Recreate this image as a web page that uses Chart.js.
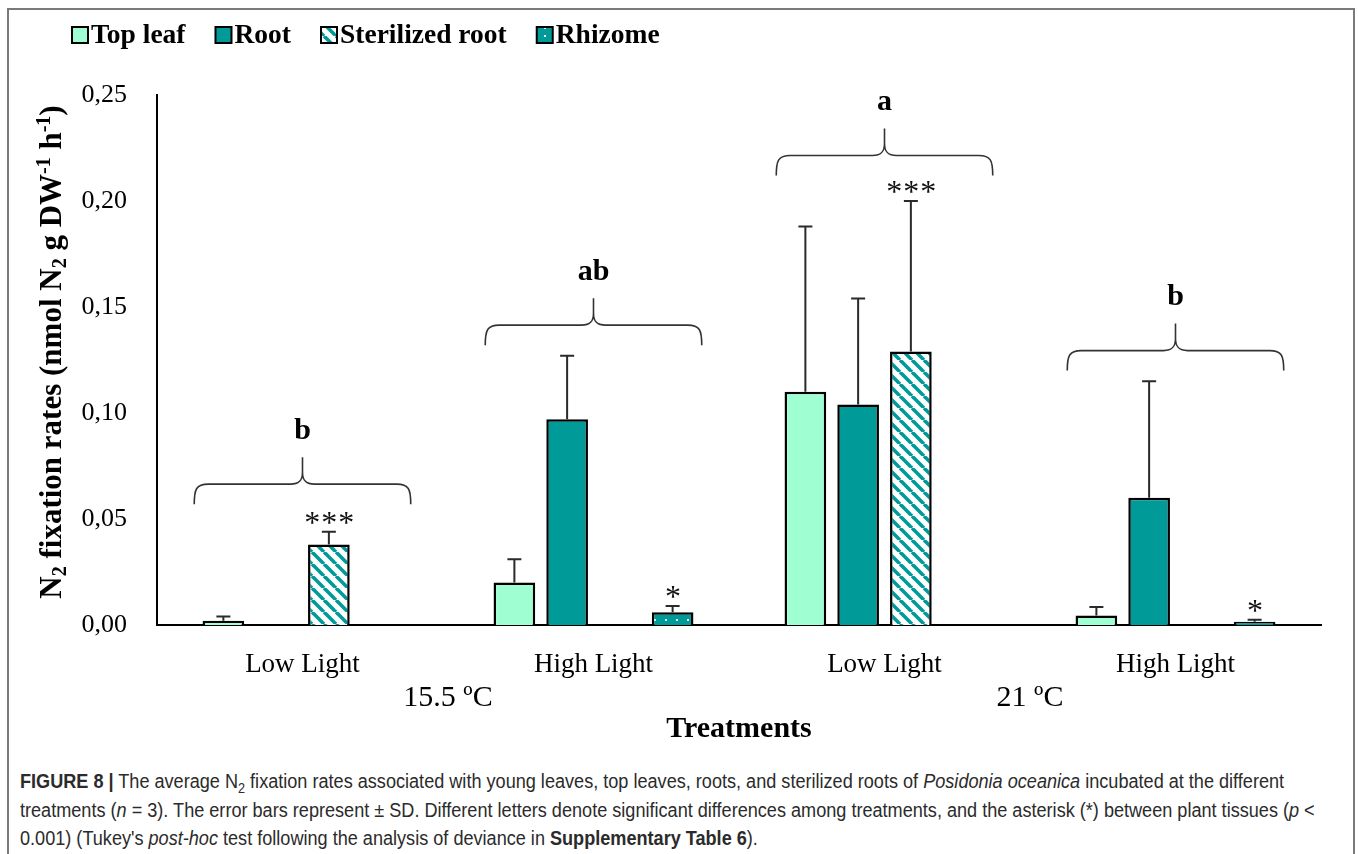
<!DOCTYPE html>
<html>
<head>
<meta charset="utf-8">
<script src="https://cdn.jsdelivr.net/npm/chart.js@4.4.1/dist/chart.umd.min.js"></script>
<style>
  html, body { margin: 0; padding: 0; background: #fff; }
  body { width: 1358px; height: 854px; position: relative; overflow: hidden; }
  #frame { position: absolute; left: 7px; top: 8px; width: 1348px; height: 900px; border: 2px solid #7a7a7a; box-sizing: border-box; }
  #chartBox { position: absolute; left: 0; top: 0; width: 1358px; height: 760px; }
  .cap { position: absolute; left: 20px; font-family: "Liberation Sans", Arial, sans-serif; font-size: 20px; line-height: 24px; color: #2b2b2b; white-space: nowrap; transform: scaleX(0.905); transform-origin: 0 50%; }
  .cap b { font-weight: bold; }
</style>
</head>
<body>
<div id="frame"></div>
<div id="chartBox"><canvas id="n2Chart" width="1358" height="760"></canvas></div>
<div class="cap" style="top:769px"><b>FIGURE 8 |</b> The average N<sub style="font-size:14px">2</sub> fixation rates associated with young leaves, top leaves, roots, and sterilized roots of <i>Posidonia oceanica</i> incubated at the different</div>
<div class="cap" style="top:798px">treatments (<i>n</i> = 3). The error bars represent ± SD. Different letters denote significant differences among treatments, and the asterisk (*) between plant tissues (<i>p</i> &lt;</div>
<div class="cap" style="top:826px">0.001) (Tukey's <i>post-hoc</i> test following the analysis of deviance in <b>Supplementary Table 6</b>).</div>

<script>
// categories and tick labels
const categories = ["Low Light", "High Light", "Low Light", "High Light"];
const temperatures = ["15.5 ºC", "21 ºC"];
const yTicks = [0, 0.05, 0.1, 0.15, 0.2, 0.25];

// means and SD per tissue
const topLeaf = [0.002, 0.020, 0.110, 0.0045];
const topLeafSD = [0.002, 0.011, 0.078, 0.004];
const root = [null, 0.097, 0.104, 0.060];
const rootSD = [null, 0.030, 0.050, 0.055];
const sterilizedRoot = [0.038, null, 0.129, null];
const sterilizedRootSD = [0.006, null, 0.071, null];
const rhizome = [null, 0.006, null, 0.0015];
const rhizomeSD = [null, 0.003, null, 0.001];

// significance marks
const groupLetters = ["b", "ab", "a", "b"];
const braceLevel = [0.057, 0.132, 0.212, 0.120];
const sterilizedStars = ["***", "", "***", ""];
const rhizomeStars = ["", "*", "", "*"];

const TEAL = "#009a98";
const MINT = "#a0ffd2";
const SERIF = '"Liberation Serif", "Times New Roman", serif';

// ! Fill patterns
const stripePattern = (() => {
  const c = document.createElement("canvas");
  c.width = 12; c.height = 12;
  const g = c.getContext("2d");
  g.fillStyle = "#fff";
  g.fillRect(0, 0, 12, 12);
  g.strokeStyle = TEAL;
  g.lineWidth = 3.6;
  for (let k = -1; k <= 1; k++) {
    g.beginPath();
    g.moveTo(k * 12, 0);
    g.lineTo(k * 12 + 12, 12);
    g.stroke();
  }
  return g.createPattern(c, "repeat");
})();

const dotPattern = (() => {
  const c = document.createElement("canvas");
  c.width = 11; c.height = 8;
  const g = c.getContext("2d");
  g.fillStyle = TEAL;
  g.fillRect(0, 0, 11, 8);
  g.fillStyle = "#fff";
  g.fillRect(5, 3, 2, 2);
  return g.createPattern(c, "repeat");
})();

function drawBrace(ctx, x1, x2, yb) {
  const cx = (x1 + x2) / 2, yt = yb - 20, tip = yt - 27;
  ctx.beginPath();
  ctx.moveTo(x1, yb);
  ctx.bezierCurveTo(x1, yt + 5, x1 + 2, yt, x1 + 14, yt);
  ctx.lineTo(cx - 12, yt);
  ctx.bezierCurveTo(cx - 3, yt, cx, yt - 4, cx, yt - 12);
  ctx.lineTo(cx, tip);
  ctx.moveTo(x2, yb);
  ctx.bezierCurveTo(x2, yt + 5, x2 - 2, yt, x2 - 14, yt);
  ctx.lineTo(cx + 12, yt);
  ctx.bezierCurveTo(cx + 3, yt, cx, yt - 4, cx, yt - 12);
  ctx.stroke();
  return tip;
}

const figureDecor = {
  id: "figureDecor",
  afterDatasetsDraw(chart) {
    const ctx = chart.ctx;
    const y = chart.scales.y;
    ctx.save();
    // error bars (upper only)
    chart.data.datasets.forEach((ds, i) => {
      const meta = chart.getDatasetMeta(i);
      meta.data.forEach((bar, j) => {
        const v = ds.data[j];
        if (v == null) return;
        const top = y.getPixelForValue(v + ds.sd[j]);
        ctx.strokeStyle = "#2a2a2a";
        ctx.lineWidth = 2;
        ctx.beginPath();
        ctx.moveTo(bar.x, bar.y);
        ctx.lineTo(bar.x, top);
        ctx.moveTo(bar.x - 7, top);
        ctx.lineTo(bar.x + 7, top);
        ctx.stroke();
        if (ds.stars && ds.stars[j]) {
          ctx.fillStyle = "#111";
          ctx.font = "32px " + SERIF;
          ctx.textAlign = "center";
          ctx.textBaseline = "alphabetic";
          ctx.letterSpacing = "1px";
          ctx.fillText(ds.stars[j], bar.x + 1, top + 1);
          ctx.letterSpacing = "0px";
        }
      });
    });
    ctx.restore();
  },
  afterDraw(chart) {
    const ctx = chart.ctx;
    const xs = chart.scales.x, ys = chart.scales.y;
    const catW = (xs.right - xs.left) / categories.length;
    ctx.save();

    // braces and group letters
    ctx.strokeStyle = "#333";
    ctx.lineWidth = 1.6;
    groupLetters.forEach((letter, j) => {
      const cx = xs.getPixelForValue(j);
      const tip = drawBrace(ctx, cx - catW * 0.372, cx + catW * 0.372, ys.getPixelForValue(braceLevel[j]));
      ctx.fillStyle = "#000";
      ctx.font = "bold 30px " + SERIF;
      ctx.textAlign = "center";
      ctx.textBaseline = "middle";
      ctx.fillText(letter, cx, tip - 26);
    });

    // temperature row
    ctx.font = "30px " + SERIF;
    ctx.fillStyle = "#000";
    temperatures.forEach((t, k) => {
      const cx = (xs.getPixelForValue(2 * k) + xs.getPixelForValue(2 * k + 1)) / 2;
      ctx.fillText(t, cx, 698);
    });

    // legend
    ctx.font = "bold 27.5px " + SERIF;
    ctx.textAlign = "left";
    let lx = 72;
    chart.data.datasets.forEach((ds) => {
      ctx.fillStyle = ds.backgroundColor;
      ctx.fillRect(lx, 27, 16, 16);
      ctx.strokeStyle = "#000";
      ctx.lineWidth = 2;
      ctx.strokeRect(lx, 27, 16, 16);
      ctx.fillStyle = "#000";
      ctx.fillText(ds.label, lx + 19, 36);
      lx += 19 + ctx.measureText(ds.label).width + 30;
    });

    // y axis title with sub/superscripts
    const parts = [
      ["N", 0], ["2", 1], [" fixation rates (nmol N", 0], ["2", 1], [" g DW", 0],
      ["-1", -1], [" h", 0], ["-1", -1], [")", 0],
    ];
    const big = "bold 31px " + SERIF, small = "bold 20px " + SERIF;
    let total = 0;
    parts.forEach(([s, k]) => { ctx.font = k ? small : big; total += ctx.measureText(s).width; });
    ctx.translate(53, (ys.top + ys.bottom) / 2 - 8);
    ctx.rotate(-Math.PI / 2);
    ctx.textBaseline = "middle";
    let px = -total / 2;
    parts.forEach(([s, k]) => {
      ctx.font = k ? small : big;
      ctx.fillText(s, px, k * 8);
      px += ctx.measureText(s).width;
    });
    ctx.restore();
  },
};

const n2Chart = new Chart(document.getElementById("n2Chart"), {
  type: "bar",
  data: {
    labels: categories,
    datasets: [
      { label: "Top leaf", data: topLeaf, sd: topLeafSD, backgroundColor: MINT },
      { label: "Root", data: root, sd: rootSD, backgroundColor: TEAL },
      { label: "Sterilized root", data: sterilizedRoot, sd: sterilizedRootSD, stars: sterilizedStars, backgroundColor: stripePattern },
      { label: "Rhizome", data: rhizome, sd: rhizomeSD, stars: rhizomeStars, backgroundColor: dotPattern },
    ].map((ds) => ({ ...ds, borderColor: "#000", borderWidth: 2.5, categoryPercentage: 0.725, barPercentage: 0.79 })),
  },
  options: {
    responsive: false,
    animation: false,
    devicePixelRatio: 1,
    layout: { padding: { top: 95, right: 37, left: 0, bottom: 0 } },
    plugins: { legend: { display: false }, tooltip: { enabled: false } },
    scales: {
      x: {
        grid: { display: false },
        border: { display: true, color: "#000", width: 2 },
        ticks: { color: "#000", font: { family: SERIF, size: 27 }, padding: 16 },
        title: { display: true, text: "Treatments", color: "#000", font: { family: SERIF, size: 30, weight: "bold" }, padding: { top: 0, bottom: 13 } },
        afterFit: (scale) => { scale.height = 135; },
      },
      y: {
        min: 0,
        max: 0.25,
        grid: { display: false },
        border: { display: true, color: "#000", width: 2 },
        afterBuildTicks: (scale) => { scale.ticks = yTicks.map((v) => ({ value: v })); },
        ticks: {
          color: "#000",
          font: { family: SERIF, size: 26 },
          padding: 22,
          callback: (v) => v.toFixed(2).replace(".", ","),
        },
        afterFit: (scale) => { scale.width = 157; },
      },
    },
  },
  plugins: [figureDecor],
});
</script>
</body>
</html>
